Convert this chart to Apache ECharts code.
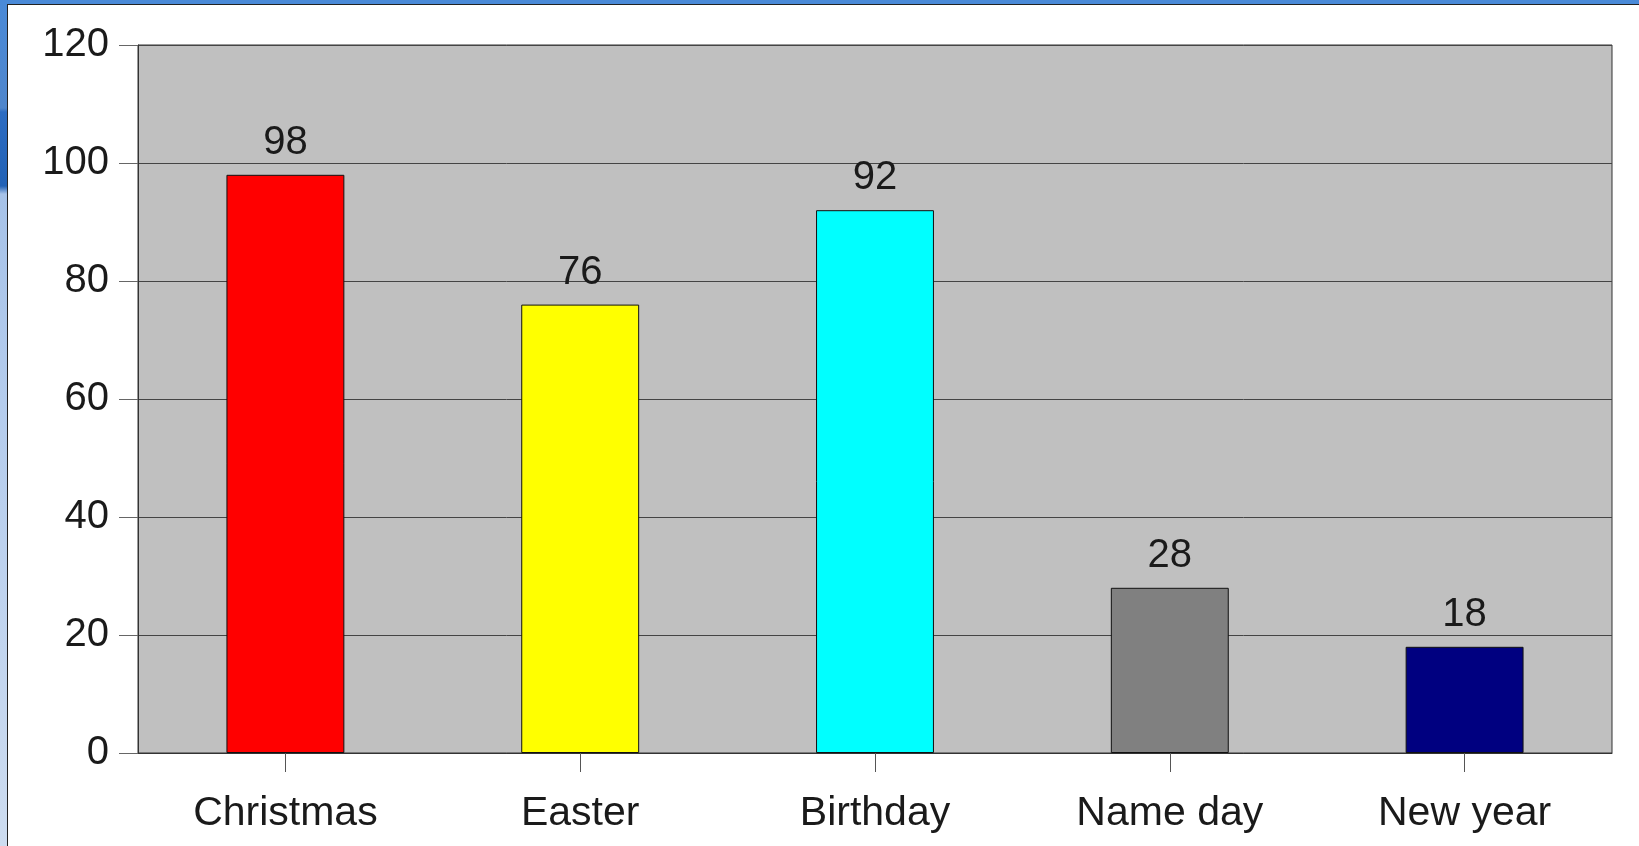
<!DOCTYPE html>
<html>
<head>
<meta charset="utf-8">
<script src="https://cdn.jsdelivr.net/npm/echarts@6/dist/echarts.min.js"></script>
<style>
  html, body { margin: 0; padding: 0; width: 1639px; height: 846px; overflow: hidden; background: #ffffff; }
  #topbar { position: absolute; left: 0; top: 0; width: 1639px; height: 4px; background: #4a8ad8; }
  #leftbar { position: absolute; left: 0; top: 0; width: 7px; height: 846px;
    background: linear-gradient(to bottom, #4a8ad8 0px, #4f86cc 108px, #2c6cc2 112px, #2262b6 186px, #a6c2e8 194px, #b4cced 400px, #cddcf0 846px); }
  #frame { position: absolute; left: 7px; top: 4px; width: 1640px; height: 850px; box-sizing: border-box;
    border-left: 1px solid #222; border-top: 1px solid #222; background: #ffffff; }
  #chart { position: absolute; left: 0; top: 0; width: 1639px; height: 846px; }
</style>
</head>
<body>
<div id="topbar"></div>
<div id="leftbar"></div>
<div id="frame"></div>
<div id="chart"></div>
<script>
const categories = ['Christmas', 'Easter', 'Birthday', 'Name day', 'New year'];
const values = [98, 76, 92, 28, 18];
const barColors = ['#ff0000', '#ffff00', '#00ffff', '#808080', '#000080'];
const yTicks = [0, 20, 40, 60, 80, 100, 120];

const FONT = "'Liberation Sans', Arial, sans-serif";
const chart = echarts.init(document.getElementById('chart'), null, { renderer: 'canvas' });
chart.setOption({
  animation: false,
  grid: {
    left: 138, right: 27, top: 45, bottom: 93,
    show: true, backgroundColor: '#c0c0c0', borderColor: '#333333', borderWidth: 1
  },
  xAxis: {
    type: 'category',
    data: categories,
    axisLine: { show: true, lineStyle: { color: '#333333', width: 1 } },
    axisTick: { show: true, alignWithLabel: true, length: 19, lineStyle: { color: '#555555' } },
    axisLabel: { color: '#1a1a1a', fontSize: 41, fontFamily: FONT, margin: 40 },
    splitLine: { show: false }
  },
  yAxis: {
    type: 'value',
    min: yTicks[0], max: yTicks[yTicks.length - 1], interval: 20,
    axisLine: { show: true, lineStyle: { color: '#333333' } },
    axisTick: { show: true, length: 19, lineStyle: { color: '#666666' } },
    axisLabel: { color: '#1a1a1a', fontSize: 40, fontFamily: FONT, margin: 29 },
    splitLine: { show: true, lineStyle: { color: '#444444', width: 1 } }
  },
  series: [{
    type: 'bar',
    barWidth: '40%',
    data: values.map((v, i) => ({
      value: v,
      itemStyle: { color: barColors[i], borderColor: '#111111', borderWidth: 1 }
    })),
    label: {
      show: true, position: 'top', distance: 12,
      color: '#1a1a1a', fontSize: 40, fontFamily: FONT
    }
  }]
});
</script>
</body>
</html>
